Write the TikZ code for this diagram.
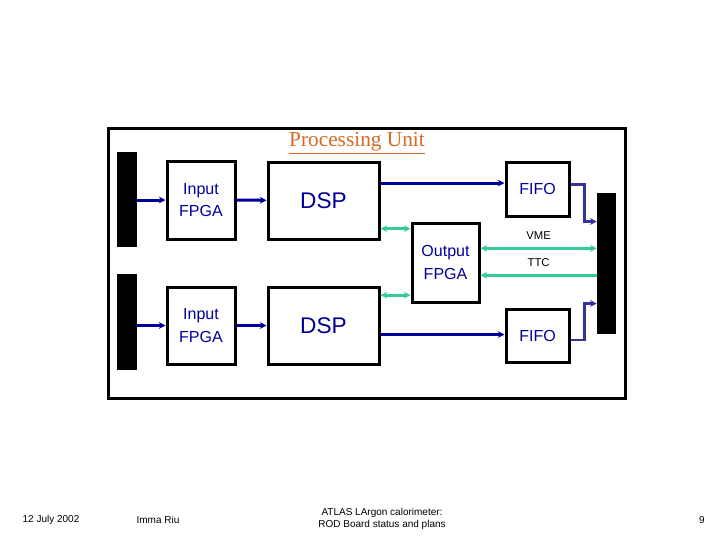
\documentclass[tikz,border=0pt]{standalone}
\usepackage{fontspec}
\setmainfont{Liberation Serif}
\newfontfamily\boxfont{Liberation Sans}
\usepackage{xcolor}
\usetikzlibrary{arrows.meta, positioning}

\definecolor{unitblue}{RGB}{0,0,153}
\definecolor{fifoblue}{RGB}{51,51,153}
\definecolor{linkteal}{RGB}{51,204,153}
\definecolor{titleorange}{RGB}{215,105,35}

\begin{document}
\begin{tikzpicture}[x=0.75pt, y=-0.75pt,
    unit/.style={rectangle, draw, line width=2.25pt, fill=white,
                 text=unitblue, align=center, font=\boxfont\fontsize{12}{17}\selectfont},
    bus/.style={rectangle, fill=black, inner sep=0pt, minimum width=15pt},
    data/.style={-{Stealth[length=5pt, width=5pt]}, line width=2.25pt, unitblue},
    link/.style={{Stealth[length=5pt, width=5pt]}-{Stealth[length=5pt, width=5pt]}, line width=2.25pt, linkteal},
    feed/.style={-{Stealth[length=5pt, width=5pt]}, line width=2pt, fifoblue},
    tag/.style={above=2pt, text=black, font=\boxfont\fontsize{8.5}{10}\selectfont},
    foot/.style={font=\boxfont\fontsize{7.5}{9}\selectfont, align=center}
]
\useasboundingbox (0,0) rectangle (720,540);

% board frame and title
\draw[line width=2.25pt] (108,128) rectangle (625,398);
\node (title) at (357,143) {\color{titleorange}\fontsize{16}{18}\selectfont\underline{Processing Unit}};

% buses
\node[bus, minimum height=71.25pt] (busTL) at (127,199.5) {};
\node[bus, minimum height=72pt]    (busBL) at (127,322) {};
\node[bus, minimum width=14.25pt, minimum height=105.75pt] (busR) at (606.5,263.5) {};

% processing blocks
\node[unit, minimum width=51pt, minimum height=58.5pt]    (inT)  at (201,200)     {Input\\FPGA};
\node[unit, minimum width=51pt, minimum height=57.75pt]   (inB)  at (201,325.5)   {Input\\FPGA};
\node[unit, minimum width=83.25pt, minimum height=57.75pt, font=\boxfont\fontsize{17}{20}\selectfont] (dspT) at (323.5,200.5) {DSP};
\node[unit, minimum width=83.25pt, minimum height=57.75pt, font=\boxfont\fontsize{17}{20}\selectfont] (dspB) at (323.5,325.5) {DSP};
\node[unit, minimum width=47.25pt, minimum height=40.5pt]  (fifoT) at (537.5,189)   {FIFO};
\node[unit, minimum width=47.25pt, minimum height=39.75pt] (fifoB) at (537.5,335.5) {FIFO};
\node[unit, minimum width=50.25pt, minimum height=59.25pt] (outF)  at (445.5,262.5) {Output\\FPGA};

% data path
\draw[data] (busTL.east |- inT.west) -- (inT.west);
\draw[data] (busBL.east |- inB.west) -- (inB.west);
\draw[data] (inT) -- (dspT);
\draw[data] (inB) -- (dspB);
\draw[data] (dspT.17) -- (dspT.17 -| fifoT.west);
\draw[data] (dspB.-9) -- (dspB.-9 -| fifoB.west);
\draw[feed] (fifoT.8) -- ++(14,0) |- (busR.west |- outF.north);
\draw[feed] (fifoB.-8) -- ++(14,0) |- (busR.west |- outF.south);

% control links
\draw[link] (outF.136) -- (outF.136 -| dspT.east);
\draw[link] (outF.223) -- (outF.223 -| dspB.east);
\draw[link] (outF.22) -- node[tag] (vme) {VME} (outF.22 -| busR.west);
\draw[link, {Stealth[length=5pt, width=5pt]}-] (outF.-20) -- node[tag] (ttc) {TTC} (outF.-20 -| busR.west);

% footer
\node[foot] (date)   at (51,520)  {12 July 2002};
\node[foot] (author) at (158,520) {Imma Riu};
\node[foot] (talk)   at (382,519) {ATLAS LArgon calorimeter:\\ROD Board status and plans};
\node[foot] (page)   at (702,520) {9};
\end{tikzpicture}
\end{document}
